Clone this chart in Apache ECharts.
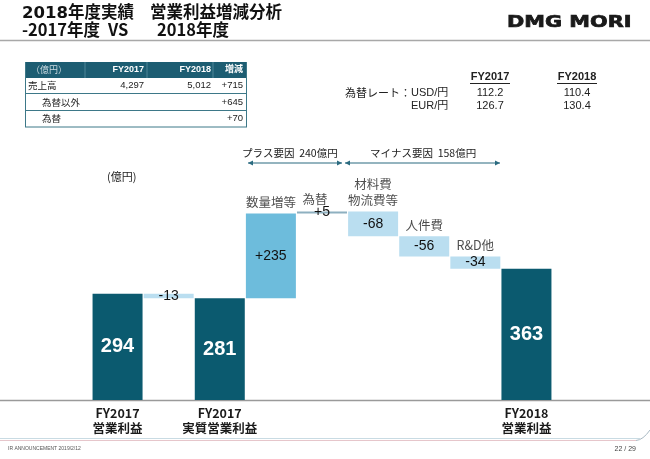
<!DOCTYPE html>
<html>
<head>
<meta charset="utf-8">
<script src="https://cdn.jsdelivr.net/npm/echarts@6/dist/echarts.min.js"></script>
<style>html,body{margin:0;padding:0;background:#fff}#c{width:650px;height:459px}</style>
</head>
<body>
<div id="c"></div>
<script>
// ---- data ----
const categories = ['FY2017 営業利益', '差異', 'FY2017 実質営業利益', '数量増等', '為替', '材料費物流費等', '人件費', 'R&D他', 'FY2018 営業利益'];
const axisLabels = ['FY2017\n営業利益', '', 'FY2017\n実質営業利益', '', '', '', '', '', 'FY2018\n営業利益'];
const factorNames = ['', '', '', '数量増等', '為替', '材料費\n物流費等', '人件費', 'R&D他', ''];
const values = [294, -13, 281, 235, 5, -68, -56, -34, 363];
const kinds = ['total', 'delta', 'total', 'delta', 'delta', 'delta', 'delta', 'delta', 'total'];
const yTicks = [0, 600];

const salesHeader = ['（億円）', 'FY2017', 'FY2018', '増減'];
const salesRows = [
  ['売上高', '4,297', '5,012', '+715'],
  ['為替以外', '', '', '+645'],
  ['為替', '', '', '+70']
];
const fxHeader = ['FY2017', 'FY2018'];
const fxRows = [
  ['USD/円', '112.2', '110.4'],
  ['EUR/円', '126.7', '130.4']
];
const plusTotal = '240';
const minusTotal = '158';

// ---- derived ----
const bases = [], heights = [], tops = [];
let running = 0;
values.forEach((v, i) => {
  if (kinds[i] === 'total') { bases.push(0); heights.push(v); running = v; }
  else if (v >= 0) { bases.push(running); heights.push(v); running += v; }
  else { running += v; bases.push(running); heights.push(-v); }
  tops.push(bases[i] + heights[i]);
});

const DARK = '#0b5a6f', MID = '#6dbcdc', LIGHT = '#badef0', FX = '#8eb0c0';
const FONT = "'Liberation Sans','Noto Sans CJK JP',sans-serif";
const CJK = "'Noto Sans CJK JP','Liberation Sans',sans-serif";

function barColor(i) {
  if (kinds[i] === 'total') return DARK;
  if (values[i] > 0 && values[i] < 10) return FX;
  return values[i] > 0 ? MID : LIGHT;
}

const valueData = values.map((v, i) => ({
  value: heights[i],
  itemStyle: { color: barColor(i) },
  label: kinds[i] === 'total'
    ? { color: '#fff', fontSize: 20, fontWeight: 'bold' }
    : { color: '#111', fontSize: 14 }
}));

const noteData = factorNames.map((n, i) => ({
  value: [i, tops[i]], name: n,
  label: n === '為替' ? { offset: [-7, -1] } : {}
}));

// ---- graphics (layout) ----
const g = [];
// header
const TF1 = "bold 16.5px 'DejaVu Sans','Noto Sans CJK JP',sans-serif";
const TF2 = "bold 16.5px " + CJK;
g.push({ type: 'text', left: 22, top: 5, style: { text: '2018年度実績', font: TF1, fill: '#111' } });
g.push({ type: 'text', left: 150, top: 5, style: { text: '営業利益増減分析', font: TF1, fill: '#111' } });
g.push({ type: 'text', left: 22, top: 21, style: { text: '-2017年度', font: TF2, fill: '#111' } });
g.push({ type: 'text', left: 108, top: 21, style: { text: 'VS', font: TF2, fill: '#111' } });
g.push({ type: 'text', left: 157, top: 21, style: { text: '2018年度', font: TF2, fill: '#111' } });
g.push({ type: 'text', x: 507, y: 15, scaleX: 1.3, style: { text: 'DMG MORI', font: "900 16px 'DejaVu Sans',sans-serif", fill: '#1a1a1a', stroke: '#1a1a1a', lineWidth: 0.7 } });
g.push({ type: 'line', shape: { x1: 0, y1: 40.5, x2: 650, y2: 40.5 }, style: { stroke: '#a8a8a8', lineWidth: 1.5 } });

// sales table
const TX = 25, TW = 222, TC = '#3d7888';
g.push({ type: 'rect', shape: { x: TX, y: 62, width: TW, height: 16 }, style: { fill: '#1d5d72' } });
[85, 147, 213].forEach(x => g.push({ type: 'line', shape: { x1: x, y1: 62, x2: x, y2: 78 }, style: { stroke: '#4f8697', lineWidth: 1 } }));
[93.5, 110.5, 127].forEach(y => g.push({ type: 'line', shape: { x1: TX, y1: y, x2: TX + TW, y2: y }, style: { stroke: TC, lineWidth: 1 } }));
g.push({ type: 'line', shape: { x1: TX + 0.5, y1: 62, x2: TX + 0.5, y2: 127 }, style: { stroke: TC, lineWidth: 1 } });
g.push({ type: 'line', shape: { x1: TX + TW - 0.5, y1: 62, x2: TX + TW - 0.5, y2: 127 }, style: { stroke: TC, lineWidth: 1 } });
const colRight = [null, 144, 211, 243];
g.push({ type: 'text', x: 31, y: 70, style: { text: salesHeader[0], font: "9px " + CJK, fill: '#c9d9df', verticalAlign: 'middle' } });
for (let c = 1; c < 4; c++) {
  g.push({ type: 'text', x: colRight[c], y: 70, style: { text: salesHeader[c], font: "bold 9px " + FONT, fill: '#fff', align: 'right', verticalAlign: 'middle' } });
}
const rowY = [85.5, 102, 118.5];
salesRows.forEach((r, ri) => {
  g.push({ type: 'text', x: ri === 0 ? 28 : 42, y: rowY[ri], style: { text: r[0], font: "9.5px " + CJK, fill: '#222', verticalAlign: 'middle' } });
  for (let c = 1; c < 4; c++) {
    if (r[c]) g.push({ type: 'text', x: colRight[c], y: rowY[ri], style: { text: r[c], font: "9.5px " + FONT, fill: '#222', align: 'right', verticalAlign: 'middle' } });
  }
});

// fx table
const fxX = [490, 577];
fxHeader.forEach((h, i) => {
  g.push({ type: 'text', x: fxX[i], y: 77, style: { text: h, font: "bold 11px " + FONT, fill: '#222', align: 'center', verticalAlign: 'middle' } });
  g.push({ type: 'line', shape: { x1: fxX[i] - 20, y1: 83.5, x2: fxX[i] + 20, y2: 83.5 }, style: { stroke: '#222', lineWidth: 1 } });
});
g.push({ type: 'text', x: 345, y: 93, style: { text: '為替レート：', font: "11px " + CJK, fill: '#222', verticalAlign: 'middle' } });
const fxY = [93, 105.5];
fxRows.forEach((r, ri) => {
  g.push({ type: 'text', x: 411, y: fxY[ri], style: { text: r[0], font: "11px " + FONT, fill: '#222', verticalAlign: 'middle' } });
  g.push({ type: 'text', x: fxX[0], y: fxY[ri], style: { text: r[1], font: "11px " + FONT, fill: '#222', align: 'center', verticalAlign: 'middle' } });
  g.push({ type: 'text', x: fxX[1], y: fxY[ri], style: { text: r[2], font: "11px " + FONT, fill: '#222', align: 'center', verticalAlign: 'middle' } });
});

// bracket arrows
const AC = '#2b6b80';
function arrow(x1, x2, y) {
  g.push({ type: 'line', shape: { x1: x1, y1: y, x2: x2, y2: y }, style: { stroke: AC, lineWidth: 1.2 } });
  g.push({ type: 'polygon', shape: { points: [[x1, y], [x1 + 5, y - 2.5], [x1 + 5, y + 2.5]] }, style: { fill: AC } });
  g.push({ type: 'polygon', shape: { points: [[x2, y], [x2 - 5, y - 2.5], [x2 - 5, y + 2.5]] }, style: { fill: AC } });
}
arrow(248, 342, 163);
arrow(345, 500, 163);
g.push({ type: 'text', x: 242, y: 153, style: { text: 'プラス要因  ' + plusTotal + '億円', font: "10.5px " + CJK, fill: '#222', verticalAlign: 'middle' } });
g.push({ type: 'text', x: 370, y: 153, style: { text: 'マイナス要因  ' + minusTotal + '億円', font: "10.5px " + CJK, fill: '#222', verticalAlign: 'middle' } });
g.push({ type: 'text', x: 107, y: 177, style: { text: '(億円)', font: "11px " + CJK, fill: '#222', verticalAlign: 'middle' } });

// baseline & footer
g.push({ type: 'line', shape: { x1: 0, y1: 400.5, x2: 650, y2: 400.5 }, style: { stroke: '#9a9a9a', lineWidth: 1.5 } });
g.push({ type: 'line', shape: { x1: 0, y1: 438.5, x2: 640, y2: 438.5 }, style: { stroke: '#c9dbe3', lineWidth: 1 } });
g.push({ type: 'line', shape: { x1: 0, y1: 440.5, x2: 636, y2: 440.5 }, style: { stroke: '#e6c6cb', lineWidth: 1 } });
g.push({ type: 'bezierCurve', shape: { x1: 636, y1: 440.5, cpx1: 643, cpy1: 440, x2: 650, y2: 430 }, style: { stroke: '#a9b9c3', lineWidth: 1, fill: null } });
g.push({ type: 'text', x: 8, y: 449, style: { text: 'IR ANNOUNCEMENT 2019/2/12', font: "5px " + FONT, fill: '#555', verticalAlign: 'middle' } });
g.push({ type: 'text', x: 636, y: 449, style: { text: '22 / 29', font: "7px " + FONT, fill: '#444', align: 'right', verticalAlign: 'middle' } });

const chart = echarts.init(document.getElementById('c'), null, { renderer: 'canvas' });
chart.setOption({
  animation: false,
  textStyle: { fontFamily: FONT },
  grid: { left: 92, right: 98, top: 183, bottom: 59, containLabel: false },
  xAxis: {
    type: 'category', data: categories,
    axisLine: { show: false }, axisTick: { show: false },
    axisLabel: {
      interval: 0, margin: 6, color: '#1a1a1a', fontWeight: 'bold', fontSize: 12.5, lineHeight: 15, fontFamily: CJK,
      formatter: (v, i) => axisLabels[i]
    }
  },
  yAxis: { type: 'value', min: yTicks[0], max: yTicks[1], show: false, splitLine: { show: false } },
  series: [
    { type: 'bar', stack: 'w', barWidth: 50, data: bases, itemStyle: { color: 'transparent' }, silent: true },
    {
      type: 'bar', stack: 'w', barWidth: 50, data: valueData,
      label: {
        show: true, position: 'inside', fontFamily: FONT,
        formatter: p => {
          const v = values[p.dataIndex];
          return kinds[p.dataIndex] === 'total' ? String(v) : (v > 0 ? '+' + v : String(v));
        }
      }
    },
    {
      type: 'scatter', data: noteData, symbolSize: 0, silent: true,
      label: {
        show: true, position: 'top', distance: 3, color: '#222', fontSize: 12.5, lineHeight: 16, fontFamily: CJK,
        formatter: p => p.name
      }
    }
  ],
  graphic: g
});
</script>
</body>
</html>
